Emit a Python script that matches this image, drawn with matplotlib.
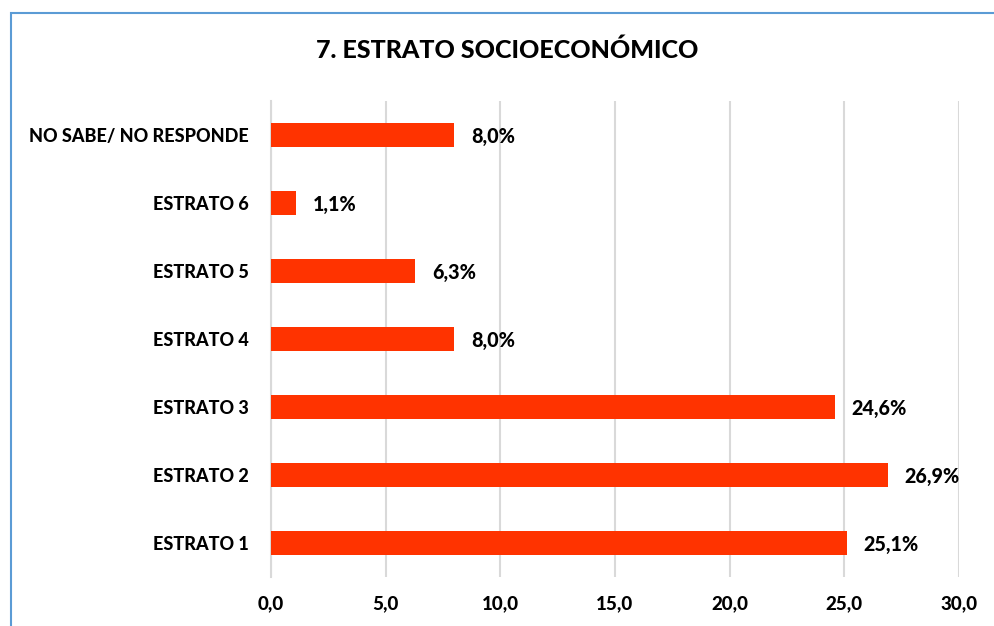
import matplotlib
matplotlib.use("Agg")
import matplotlib.pyplot as plt
from matplotlib.patches import Rectangle

categories = ["ESTRATO 1", "ESTRATO 2", "ESTRATO 3", "ESTRATO 4", "ESTRATO 5", "ESTRATO 6", "NO SABE/ NO RESPONDE"]
values = [25.1, 26.9, 24.6, 8.0, 6.3, 1.1, 8.0]
xticks = [0, 5, 10, 15, 20, 25, 30]
title = "7. ESTRATO SOCIOECONÓMICO"

plt.rcParams['font.family'] = ['Lato', 'DejaVu Sans']
W, H = 994, 626
fig = plt.figure(figsize=(W / 100, H / 100), dpi=100)
fig.patch.set_facecolor("white")

# outer frame (cropped at right and bottom)
fig.patches.append(Rectangle((11 / W, -0.05), 1.2, 1 - 13 / H + 0.05, transform=fig.transFigure,
                             fill=False, edgecolor="#5B9BD5", linewidth=1.5, zorder=0))

ax = fig.add_axes([271 / W, 1 - 577 / H, (959 - 271) / W, (577 - 101) / H])
y = list(range(len(categories)))
ax.barh(y, values, height=0.35, color="#FF3300", zorder=3)
ax.set_ylim(-0.5, len(categories) - 0.5)
ax.set_xlim(0, 30)
ax.set_xticks(xticks)
ax.set_xticklabels([f"{t:.1f}".replace(".", ",") for t in xticks], fontsize=13.5, fontweight="black")
ax.set_yticks(y)
ax.set_yticklabels(categories, fontsize=13.0, fontweight="black")
ax.tick_params(axis="x", length=0, pad=13)
ax.tick_params(axis="y", length=0, pad=16)
ax.grid(axis="x", color="#D9D9D9", linewidth=1.5, zorder=0)
for s in ["top", "right", "bottom"]:
    ax.spines[s].set_visible(False)
ax.spines["left"].set_color("#D9D9D9")
ax.spines["left"].set_linewidth(1.5)

for yi, v in zip(y, values):
    ax.annotate(f"{v:.1f}".replace(".", ",") + "%", (v, yi), xytext=(12, -1), textcoords="offset points",
                ha="left", va="center", fontsize=14.2, fontweight="black")

fig.text(507 / W, 1 - 50 / H, title, ha="center", va="center", fontsize=18, fontweight="black")

fig.savefig("out.png", dpi=100)
